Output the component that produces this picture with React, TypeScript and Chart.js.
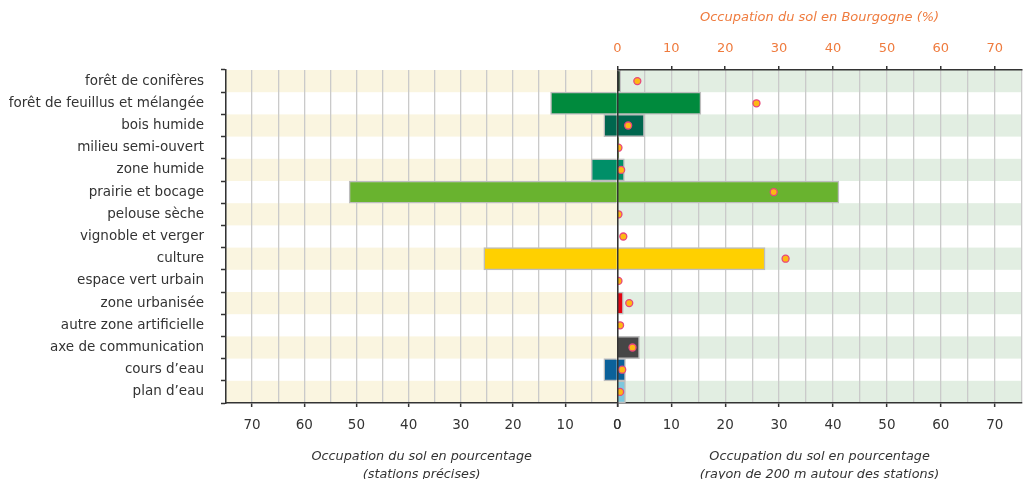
import { useEffect, useRef } from 'react';
import { Chart, registerables } from 'chart.js';

Chart.register(...registerables);

const categories = [
  'forêt de conifères',
  'forêt de feuillus et mélangée',
  'bois humide',
  'milieu semi-ouvert',
  'zone humide',
  'prairie et bocage',
  'pelouse sèche',
  'vignoble et verger',
  'culture',
  'espace vert urbain',
  'zone urbanisée',
  'autre zone artificielle',
  'axe de communication',
  'cours d’eau',
  'plan d’eau',
];

// Occupation du sol (stations précises), %
const stationValues = [0, 12.8, 2.6, 0, 5.0, 51.4, 0, 0, 25.6, 0, 0, 0, 0, 2.6, 0];
// Occupation du sol (rayon de 200 m autour des stations), %
const bufferValues = [0.6, 15.5, 5.0, 0.3, 1.3, 41.1, 0, 0, 27.4, 0, 1.1, 0, 4.1, 1.5, 1.5];
// Occupation du sol en Bourgogne, %
const bourgogneValues = [3.7, 25.8, 2.0, 0.2, 0.7, 29.0, 0.2, 1.1, 31.2, 0.2, 2.2, 0.5, 2.8, 0.9, 0.5];

const barColors = [
  '#233F27', '#008A3D', '#00664E', '#8FB04A', '#008F68', '#69B32F', '#B5C97A', '#8B3A6B',
  '#FFD000', '#9ACD5A', '#E30613', '#999999', '#464646', '#0B619A', '#7DC8DD',
];

const axisMax = 75;
const gridStep = 5;
const labelStep = 10;

const leftTitle = ['Occupation du sol en pourcentage', '(stations précises)'];
const rightTitle = ['Occupation du sol en pourcentage', '(rayon de 200 m autour des stations)'];
const topTitle = 'Occupation du sol en Bourgogne (%)';

const FONT = 'DejaVu Sans';
const DARK = '#333333';
const ORANGE = '#EF7B3E';
const GRID = '#CACACA';
const LEFT_STRIPE = '#FAF5E0';
const RIGHT_STRIPE = '#E2EEE2';
const NONE = 'rgba(0,0,0,0)';

const TOP_H = 70;
const BOTTOM_H = 76;

const stripePlugin = {
  id: 'stripes',
  beforeDraw(chart: any) {
    const { ctx, chartArea, scales } = chart;
    const y = scales.y;
    const xL = scales.xL;
    const xR = scales.xR;
    ctx.save();
    categories.forEach((_, i) => {
      if (i % 2 !== 0) return;
      const t = y.getPixelForValue(i - 0.5);
      const b = y.getPixelForValue(i + 0.5);
      ctx.fillStyle = LEFT_STRIPE;
      ctx.fillRect(chartArea.left, t, xL.right - chartArea.left, b - t);
      ctx.fillStyle = RIGHT_STRIPE;
      ctx.fillRect(xR.left, t, chartArea.right - xR.left, b - t);
    });
    ctx.restore();
  },
};

const tickLabel = (v: any) => (Number(v) % labelStep === 0 ? String(v) : '');
const tickMarkColor = (ctx: any) =>
  ctx.tick && ctx.tick.value % labelStep === 0 ? DARK : NONE;

function bottomAxis(reverse: boolean, title: string[], weight: number, stackWeight: number) {
  return {
    type: 'linear',
    position: 'bottom',
    stack: 'bottomStack',
    stackWeight,
    weight,
    min: 0,
    max: axisMax,
    reverse,
    ticks: {
      stepSize: gridStep,
      autoSkip: false,
      maxRotation: 0,
      callback: tickLabel,
      font: { family: FONT, size: 13.5 },
      color: DARK,
      padding: 10,
    },
    grid: {
      color: GRID,
      lineWidth: 1.3,
      tickLength: 4,
      tickWidth: 1.5,
      tickColor: tickMarkColor,
    },
    border: { color: DARK, width: 1.5 },
    title: {
      display: true,
      text: title,
      color: DARK,
      font: { family: FONT, size: 12.8, style: 'italic', lineHeight: '18px' },
      padding: { top: 0, bottom: -5 },
    },
    afterFit: (s: any) => {
      s.height = BOTTOM_H;
      s.paddingLeft = 0;
      s.paddingRight = 0;
    },
  };
}

export default function App() {
  const canvasRef = useRef<HTMLCanvasElement | null>(null);

  useEffect(() => {
    document.body.style.margin = '0';
    const canvas = canvasRef.current;
    if (!canvas) return;
    const chart = new Chart(canvas, {
      type: 'bar',
      data: {
        labels: categories,
        datasets: [
          {
            type: 'line',
            label: 'Bourgogne',
            data: bourgogneValues,
            indexAxis: 'y',
            xAxisID: 'xTop',
            yAxisID: 'y',
            showLine: false,
            pointRadius: 3.5,
            pointBorderWidth: 1.3,
            pointBackgroundColor: '#FDB813',
            pointBorderColor: '#E8467C',
            order: 0,
          } as any,
          {
            type: 'bar',
            label: 'stations précises',
            data: stationValues,
            xAxisID: 'xL',
            yAxisID: 'y',
            backgroundColor: barColors,
            borderColor: '#BDBDBD',
            borderWidth: 1.5,
            barPercentage: 1,
            categoryPercentage: 1,
            grouped: false,
            order: 1,
          } as any,
          {
            type: 'bar',
            label: 'rayon de 200 m',
            data: bufferValues,
            xAxisID: 'xR',
            yAxisID: 'y',
            backgroundColor: barColors,
            borderColor: '#BDBDBD',
            borderWidth: 1.5,
            barPercentage: 1,
            categoryPercentage: 1,
            grouped: false,
            order: 1,
          } as any,
        ],
      },
      options: {
        indexAxis: 'y',
        animation: false,
        responsive: false,
        devicePixelRatio: 1,
        layout: { padding: { left: 0, right: 2, top: 0, bottom: 0 } },
        plugins: {
          legend: { display: false },
          tooltip: { enabled: false },
        },
        scales: {
          y: {
            type: 'category',
            position: 'left',
            grid: {
              drawOnChartArea: false,
              drawTicks: true,
              tickLength: 5,
              tickWidth: 1.5,
              tickColor: DARK,
              offset: true,
            },
            border: { color: DARK, width: 1.5 },
            ticks: {
              autoSkip: false,
              font: { family: FONT, size: 13.5 },
              color: DARK,
              padding: 17,
            },
            afterFit: (s: any) => {
              s.width = 226;
              s.paddingTop = 0;
              s.paddingBottom = 0;
            },
          },
          xL: bottomAxis(true, leftTitle, 1, 393),
          xR: bottomAxis(false, rightTitle, 2, 406),
          xTL: {
            type: 'linear',
            position: 'top',
            stack: 'topStack',
            stackWeight: 393,
            weight: 2,
            min: 0,
            max: 1,
            ticks: { display: false },
            grid: { display: false, drawTicks: false },
            border: { display: false },
            afterFit: (s: any) => {
              s.height = TOP_H;
              s.paddingLeft = 0;
              s.paddingRight = 0;
            },
          },
          xTop: {
            type: 'linear',
            position: 'top',
            stack: 'topStack',
            stackWeight: 406,
            weight: 1,
            min: 0,
            max: axisMax,
            ticks: {
              stepSize: labelStep,
              includeBounds: false,
              autoSkip: false,
              maxRotation: 0,
              callback: tickLabel,
              font: { family: FONT, size: 13 },
              color: ORANGE,
              padding: 10,
            },
            grid: {
              z: 1,
              color: (ctx: any) => (ctx.tick && ctx.tick.value === 0 ? DARK : NONE),
              lineWidth: 1.5,
              tickLength: 4,
              tickWidth: 1.5,
              tickColor: tickMarkColor,
            },
            border: { color: DARK, width: 1.5, z: 1 },
            title: {
              display: true,
              text: topTitle,
              color: ORANGE,
              font: { family: FONT, size: 13, style: 'italic' },
              padding: { top: 10, bottom: 0 },
            },
            afterFit: (s: any) => {
              s.height = TOP_H;
              s.paddingLeft = 0;
              s.paddingRight = 0;
            },
          },
        },
      } as any,
      plugins: [stripePlugin],
    });
    return () => chart.destroy();
  }, []);

  return (
    <div style={{ width: 1027, height: 479 }}>
      <canvas ref={canvasRef} width={1027} height={479} />
    </div>
  );
}
